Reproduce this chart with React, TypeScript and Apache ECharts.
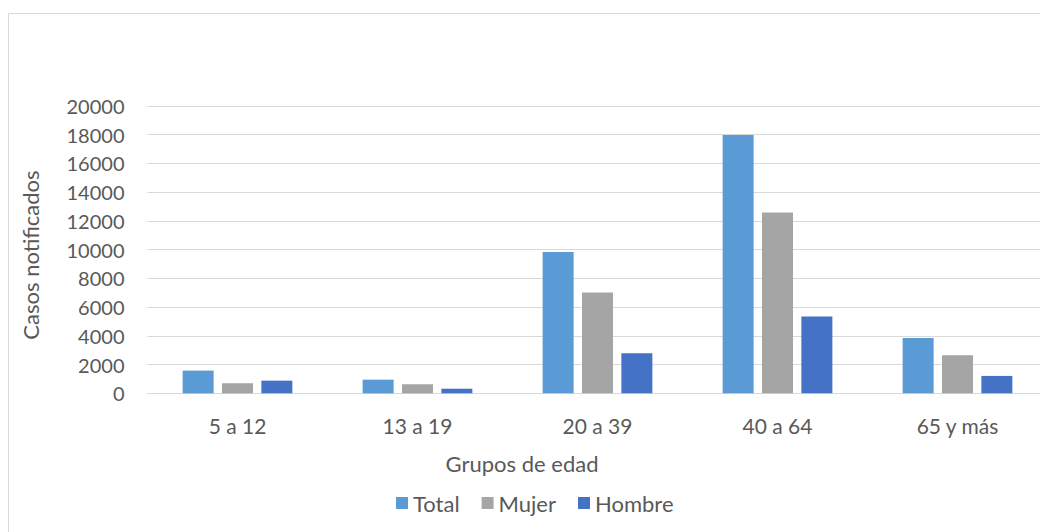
import React, { useEffect, useRef } from "react";
import * as echarts from "echarts";

const categories = ["5 a 12", "13 a 19", "20 a 39", "40 a 64", "65 y más"];
const totalValues = [1580, 950, 9830, 17980, 3850];
const mujerValues = [700, 630, 7010, 12580, 2650];
const hombreValues = [880, 320, 2790, 5340, 1210];
const yTicks = { min: 0, max: 20000, interval: 2000 };
const seriesNames = ["Total", "Mujer", "Hombre"];
const seriesColors = ["#5B9BD5", "#A5A5A5", "#4472C4"];

const FONT = "Lato";
const TEXT = "#595959";

export default function App() {
  const ref = useRef<HTMLDivElement>(null);
  useEffect(() => {
    if (!ref.current) return;
    const chart = echarts.init(ref.current, undefined, { renderer: "svg" });
    const values = [totalValues, mujerValues, hombreValues];
    chart.setOption({
      animation: false,
      textStyle: { fontFamily: FONT },
      grid: { left: 147.5, right: 12.5, top: 106, bottom: 138.7, containLabel: false },
      legend: {
        left: 396,
        top: 492,
        padding: 0,
        itemWidth: 12,
        itemHeight: 12,
        itemGap: 22,
        icon: "rect",
        textStyle: { fontFamily: FONT, fontSize: 22, color: TEXT },
        data: seriesNames,
      },
      xAxis: {
        type: "category",
        data: categories,
        axisLine: { show: true, lineStyle: { color: "#d9d9d9", width: 1 } },
        axisTick: { show: false },
        axisLabel: { fontFamily: FONT, fontSize: 21, color: TEXT, margin: 22 },
      },
      yAxis: {
        type: "value",
        min: yTicks.min,
        max: yTicks.max,
        interval: yTicks.interval,
        axisLine: { show: false },
        axisTick: { show: false },
        axisLabel: {
          fontFamily: FONT,
          fontSize: 20,
          color: TEXT,
          margin: 23,
          formatter: (v: number) => String(v),
        },
        splitLine: { lineStyle: { color: "#d9d9d9", width: 1 } },
      },
      graphic: [
        {
          type: "rect",
          silent: true,
          shape: { x: 8.5, y: 13.5, width: 1200, height: 700 },
          style: { fill: "none", stroke: "#d9d9d9", lineWidth: 1 },
          z: -10,
        },
        {
          type: "text",
          x: 30,
          y: 255,
          rotation: Math.PI / 2,
          style: {
            text: "Casos notificados",
            fontFamily: FONT,
            fontSize: 22,
            fill: TEXT,
            align: "center",
            verticalAlign: "middle",
          },
        },
        {
          type: "text",
          x: 522,
          y: 463,
          style: {
            text: "Grupos de edad",
            fontFamily: FONT,
            fontSize: 22,
            fill: TEXT,
            align: "center",
            verticalAlign: "middle",
          },
        },
      ],
      series: seriesNames.map((name, i) => ({
        name,
        type: "bar",
        data: values[i],
        barWidth: 31,
        barGap: "27%",
        itemStyle: { color: seriesColors[i] },
      })),
    });
    return () => chart.dispose();
  }, []);
  return (
    <div style={{ position: "absolute", left: 0, top: 0, width: 1040, height: 532, overflow: "hidden", background: "#fff" }}>
      <div ref={ref} style={{ width: 1060, height: 532 }} />
    </div>
  );
}
